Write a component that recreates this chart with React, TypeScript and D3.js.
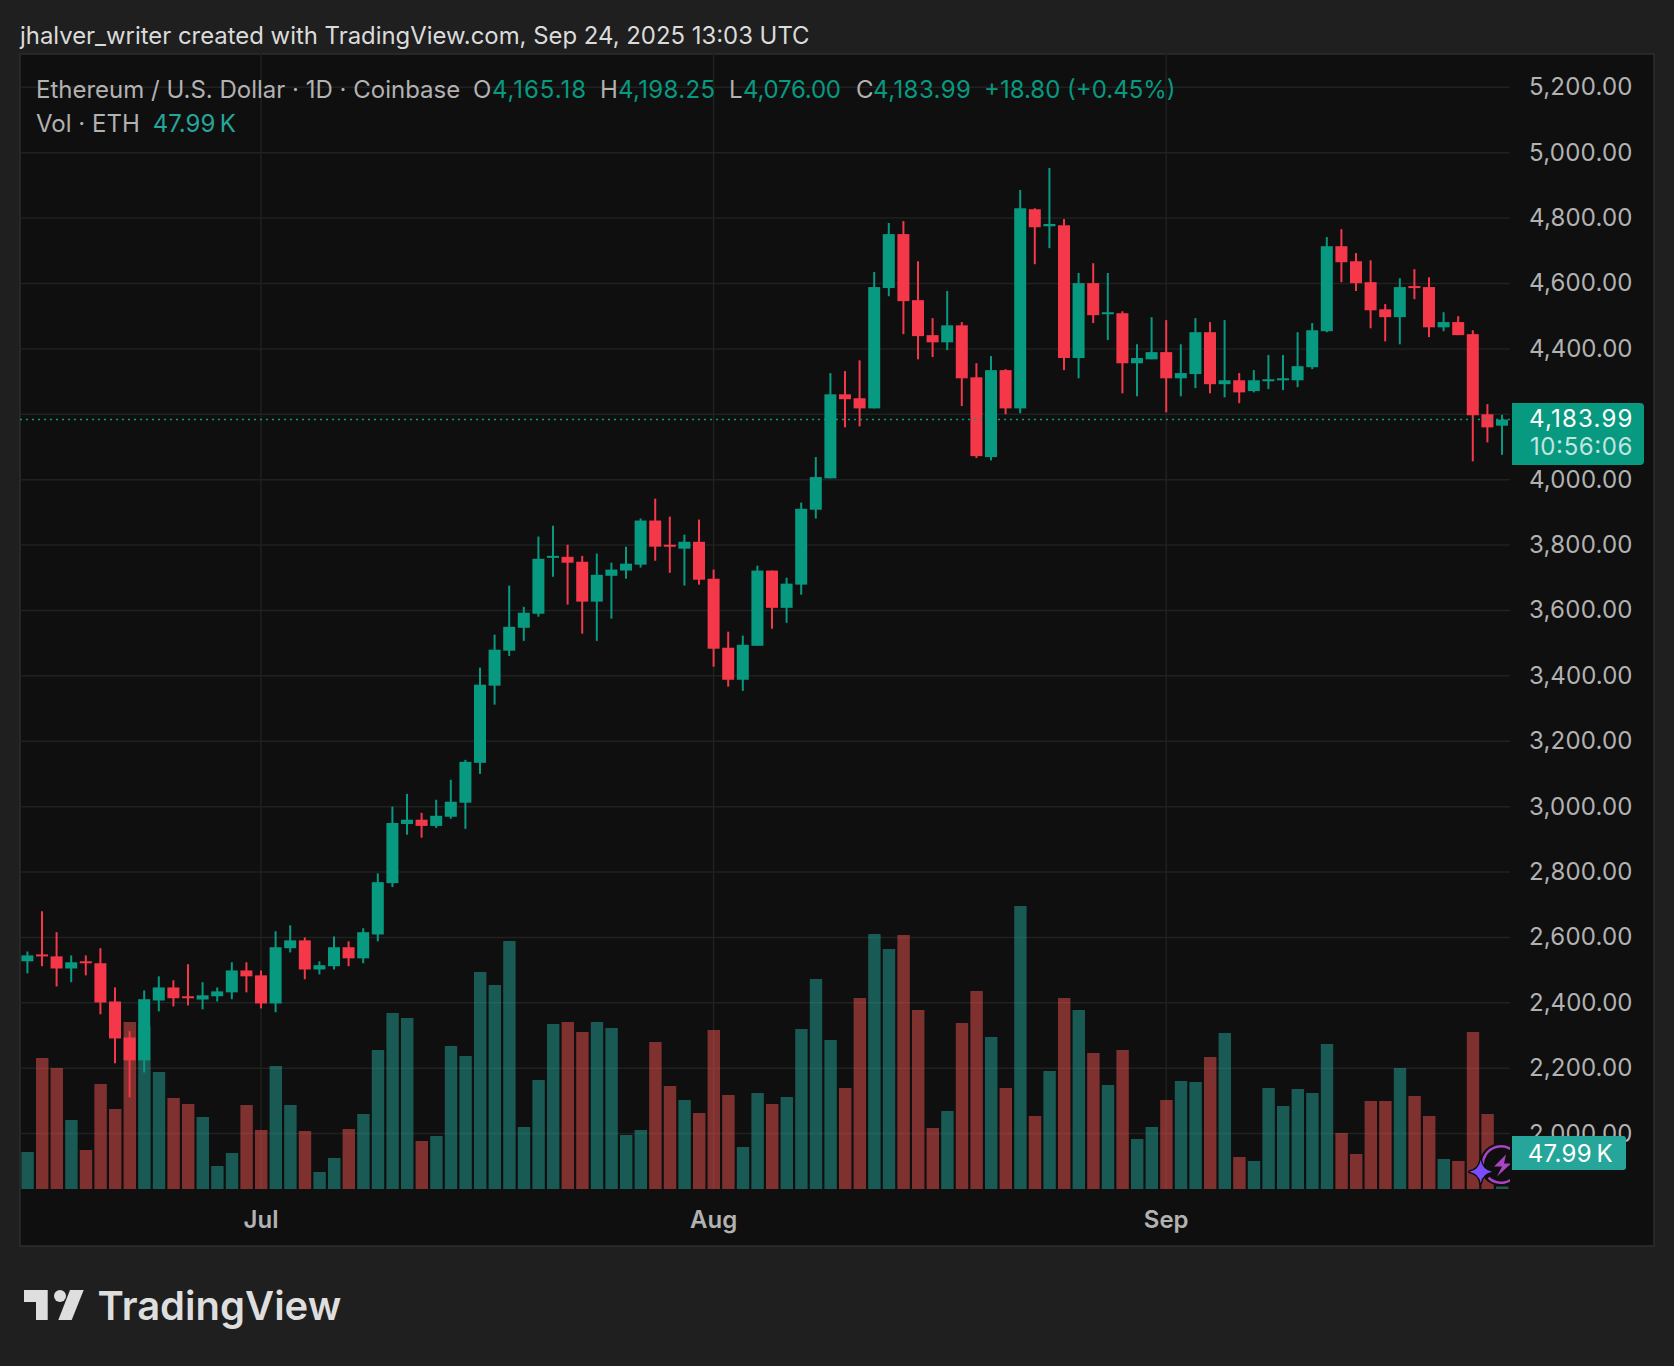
import * as d3 from 'd3'

// daily candles, Jun 15 to Sep 24 2025
const opens = [2527,2548,2542,2505,2527,2521,2404,2294,2224,2407,2447,2420,2410,2420,2432,2499,2484,2398,2567,2591,2502,2512,2570,2536,2609,2766,2947,2960,2941,2969,3012,3134,3370,3477,3547,3590,3761,3764,3749,3627,3706,3722,3740,3875,3801,3789,3810,3697,3486,3388,3492,3722,3608,3679,3908,4004,4261,4249,4218,4586,4751,4549,4442,4420,4472,4313,4069,4335,4218,4827,4775,4778,4372,4601,4506,4509,4356,4368,4390,4310,4323,4451,4292,4304,4271,4301,4304,4304,4344,4454,4714,4668,4604,4521,4497,4592,4589,4466,4482,4445,4200,4165.18]
const highs = [2557,2680,2616,2545,2545,2567,2447,2313,2438,2481,2469,2518,2463,2447,2524,2524,2499,2619,2637,2600,2527,2603,2588,2628,2796,3000,3039,2981,3021,3082,3143,3425,3526,3676,3611,3826,3859,3801,3767,3774,3746,3795,3881,3942,3887,3832,3878,3725,3535,3523,3737,3722,3700,3930,4069,4326,4332,4365,4635,4785,4791,4668,4494,4577,4482,4356,4378,4338,4886,4830,4953,4797,4632,4662,4632,4515,4414,4497,4488,4414,4494,4482,4488,4326,4335,4381,4381,4451,4479,4742,4766,4693,4671,4537,4616,4644,4619,4512,4500,4457,4231,4198.25]
const lows = [2490,2512,2450,2463,2484,2365,2215,2111,2187,2374,2389,2392,2380,2404,2411,2432,2383,2371,2554,2472,2487,2502,2512,2521,2588,2754,2914,2905,2935,2963,2932,3100,3312,3461,3507,3581,3703,3618,3529,3507,3575,3697,3731,3752,3715,3676,3679,3428,3367,3354,3492,3544,3562,3648,3881,4004,4160,4163,4218,4561,4445,4368,4375,4396,4225,4066,4059,4200,4203,4659,4708,4335,4310,4479,4427,4264,4255,4368,4206,4255,4280,4264,4252,4234,4267,4277,4274,4283,4338,4451,4604,4577,4463,4423,4414,4552,4436,4454,4442,4056,4114,4076]
const closes = [2545,2542,2505,2524,2521,2401,2291,2224,2411,2447,2414,2414,2423,2435,2499,2481,2398,2570,2591,2502,2515,2570,2536,2616,2769,2950,2960,2941,2972,3015,3137,3373,3480,3550,3593,3758,3767,3746,3627,3709,3725,3743,3875,3795,3795,3810,3694,3483,3388,3495,3722,3608,3682,3911,4008,4261,4246,4218,4589,4751,4546,4439,4420,4472,4310,4072,4335,4218,4830,4772,4782,4372,4601,4503,4512,4356,4372,4390,4310,4326,4451,4292,4304,4267,4304,4307,4310,4347,4457,4714,4665,4601,4518,4497,4589,4586,4466,4482,4442,4197,4160,4183.99]
// volume in thousands of ETH
const volumes = [117,305,285,181,121,253,203,377,369,277,225,213,187,89,115,211,161,289,211,159,77,105,163,193,321,395,385,139,149,329,309,477,451,539,167,261,373,377,357,377,365,151,161,337,249,221,195,361,231,127,235,213,227,363,463,341,245,425,553,523,551,401,165,199,375,439,347,245,609,189,279,425,401,315,251,321,143,167,221,259,257,307,355,107,99,245,209,243,235,333,155,113,219,219,285,229,189,103,99,357,193,47.99]
// volume colour is read from the bar, it does not always follow the candle
const volumeUp = [1,0,0,1,0,0,0,0,1,1,0,0,1,1,1,0,0,1,1,0,1,1,0,1,1,1,1,0,1,1,1,1,1,1,1,1,1,0,0,1,1,1,1,0,0,1,0,0,0,1,1,0,1,1,1,1,0,0,1,1,0,0,0,1,0,0,1,0,1,0,1,0,1,0,1,0,1,1,0,1,1,0,1,0,1,1,1,1,1,1,0,0,0,0,1,0,0,1,0,0,0,1]

const priceTicks = [5200,5000,4800,4600,4400,4200,4000,3800,3600,3400,3200,3000,2800,2600,2400,2200,2000]
// 4,200.00 sits behind the last price tag
const priceLabels = priceTicks.filter(p => p !== 4200)
const monthLabels = ['Jul', 'Aug', 'Sep']
const monthIndex = [16, 47, 78]
const legendLabels = ['O', 'H', 'L', 'C']
const legendValues = ['4,165.18', '4,198.25', '4,076.00', '4,183.99']

const UP = '#089981'
const DOWN = '#f5374a'
const FONT = 'Inter, Roboto, sans-serif'

// x of each OHLC letter, x and width of its value
const legendLayout = [
  { lx: 473, vx: 492, w: 94 },
  { lx: 600, vx: 618, w: 97 },
  { lx: 729, vx: 743, w: 98 },
  { lx: 856, vx: 873, w: 98 }
]
const AXIS_TEXT_WIDTH = 103.5

export default function App() {
  const width = 1674
  const height = 1366
  const plot = { left: 20, right: 1510, top: 53, bottom: 1246 }

  const x = d3.scaleLinear().domain([0, 101]).range([27.4, 1502])
  const y = d3.scaleLinear().domain([5200, 2000]).range([87.3, 1133.6])
  const yVol = d3.scaleLinear().domain([43, 609]).range([1189, 906])
  const fmt = d3.format(',.2f')

  const lastY = y(closes[closes.length - 1])
  const ring = d3.arc()

  return (
    <svg width={width} height={height} style={{ position: 'absolute', left: 0, top: 0 }} fontFamily={FONT}>
      <defs>
        <clipPath id="plot-clip">
          <rect x={plot.left} y={plot.top} width={plot.right - plot.left} height={plot.bottom - plot.top} />
        </clipPath>
      </defs>
      <rect width={width} height={height} fill="#1f1f1f" />
      <text x={20} y={44} fontSize={23.9} fill="#dbdbdb">jhalver_writer created with TradingView.com, Sep 24, 2025 13:03 UTC</text>
      <rect x={20} y={54} width={1634} height={1192} fill="#0f0f0f" stroke="#2e2e2e" strokeWidth={1.5} />

      <g stroke="#212121" strokeWidth={1.5}>
        {priceTicks.map(p => <line key={p} x1={plot.left} x2={plot.right} y1={y(p)} y2={y(p)} />)}
        {monthIndex.map(m => <line key={m} x1={x(m)} x2={x(m)} y1={plot.top} y2={1189} />)}
      </g>

      <g clipPath="url(#plot-clip)">
        {volumes.map((v, i) => (
          <rect
            key={i}
            x={x(i) - 6}
            y={yVol(v)}
            width={12.4}
            height={yVol.range()[0] - yVol(v)}
            fill={volumeUp[i] ? 'rgba(38,166,154,0.5)' : 'rgba(239,83,80,0.5)'}
          />
        ))}
        {closes.map((c, i) => {
          const color = c >= opens[i] ? UP : DOWN
          const top = y(Math.max(opens[i], c))
          const bottom = y(Math.min(opens[i], c))
          return (
            <g key={i} fill={color}>
              <rect x={x(i) - 1} width={2} y={y(highs[i])} height={y(lows[i]) - y(highs[i])} />
              <rect x={x(i) - 6} width={12} y={top} height={Math.max(bottom - top, 2)} />
            </g>
          )
        })}
        <line x1={plot.left} x2={plot.right} y1={lastY} y2={lastY} stroke={UP} strokeWidth={1.6} strokeDasharray="2 4" />

        <g transform="translate(1501,1164.5)">
          <circle r={21.5} fill="#0f0f0f" />
          <path d={ring({ innerRadius: 17, outerRadius: 19.5, startAngle: -1.75, endAngle: 1.3 }) ?? ''} fill="#a944c4" />
          <path d={ring({ innerRadius: 17, outerRadius: 19.5, startAngle: 2.0, endAngle: 3.9 }) ?? ''} fill="#a944c4" />
          <path d="M5 -10 L-7 2 L1 2 L-4 12 L10 -1 L3 -1 Z" fill="#a944c4" />
        </g>
        <path d="M1480.7 1160 Q1482.5 1170 1492 1171.7 Q1482.5 1173.5 1480.7 1183 Q1479 1173.5 1469.5 1171.7 Q1479 1170 1480.7 1160 Z" fill="#7b4dff" stroke="#0f0f0f" strokeWidth={3} strokeLinejoin="round" paintOrder="stroke" />
      </g>

      <g fontSize={24} fill="#b2b2b2">
        {priceLabels.map(p => (
          <text key={p} x={1529} y={y(p) + 8} textLength={AXIS_TEXT_WIDTH}>{fmt(p)}</text>
        ))}
      </g>
      <g fontSize={24} fontWeight={600} fill="#b2b2b2" textAnchor="middle">
        {monthLabels.map((label, i) => <text key={label} x={x(monthIndex[i])} y={1228}>{label}</text>)}
      </g>

      <g fontSize={24} fill="#b2b2b2">
        <text x={36} y={98}>Ethereum / U.S. Dollar · 1D · Coinbase</text>
        <text x={36} y={132}>Vol · ETH</text>
        {legendLabels.map((label, i) => (
          <g key={label}>
            <text x={legendLayout[i].lx} y={98}>{label}</text>
            <text x={legendLayout[i].vx} y={98} fill={UP} textLength={legendLayout[i].w}>{legendValues[i]}</text>
          </g>
        ))}
        <text x={984} y={98} fill={UP}>+18.80 (+0.45%)</text>
        <text x={152.7} y={132} fill="#26a69a">47.99{'\u2009'}K</text>
      </g>

      <path d="M1512 403 H1640 A4 4 0 0 1 1644 407 V461 A4 4 0 0 1 1640 465 H1512 Z" fill={UP} />
      <g fontSize={24} fill="#ffffff">
        <text x={1529} y={427} textLength={AXIS_TEXT_WIDTH}>4,183.99</text>
        <text x={1530} y={455} fillOpacity={0.75} textLength={AXIS_TEXT_WIDTH - 1}>10:56:06</text>
      </g>

      <path d="M1512 1136 H1623 A3 3 0 0 1 1626 1139 V1167 A3 3 0 0 1 1623 1170 H1512 Z" fill="#26a69a" />
      <text x={1613} y={1162} fontSize={24} fill="#ffffff" letterSpacing={0.3} textAnchor="end">47.99{'\u2009'}K</text>

      <g fill="#dedede">
        <path d="M24 1290 H47.7 V1320 H36 V1302 H24 Z" />
        <circle cx={60} cy={1296} r={6} />
        <path d="M70 1290 H83.7 L71.7 1320 H58.3 Z" />
        <text x={97.5} y={1320} fontSize={40} fontWeight={600}>TradingView</text>
      </g>
    </svg>
  )
}
